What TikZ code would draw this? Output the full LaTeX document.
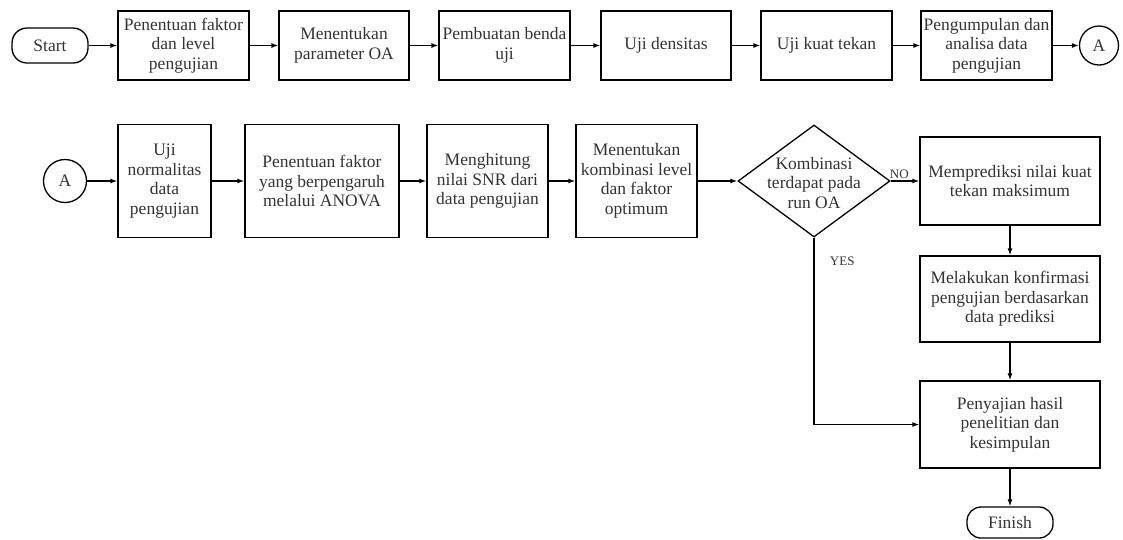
\documentclass[tikz,border=0pt]{standalone}
\usepackage{fontspec}
\setmainfont{Liberation Serif}
\newfontfamily\tnr{Liberation Serif}
\usetikzlibrary{arrows.meta,shapes.geometric}
\begin{document}
\begin{tikzpicture}[x=1pt,y=-1pt,
  every node/.style={font=\tnr\fontsize{17.5}{19.5}\selectfont, text=black!80},
  proc/.style={draw=black, line width=1.3pt, rectangle, align=center, inner sep=2pt, minimum height=#1},
  proc/.default=69pt,
  term/.style={draw=black, line width=1.3pt, rectangle, rounded corners=15pt, align=center, inner sep=2pt},
  conn/.style={draw=black, line width=1.3pt, circle, inner sep=0pt},
  dia/.style={draw=black, line width=1.3pt, diamond, inner sep=0pt, minimum width=152pt, minimum height=112pt},
  lbl/.style={font=\tnr\fontsize{13}{14}\selectfont},
  arr/.style={draw=black, line width=1.3pt, -{Latex[length=7pt,width=5pt]}}
]
\useasboundingbox (0,0) rectangle (1123,539);
% Row 1
\node[term, minimum width=76pt, minimum height=35pt] (start) at (50,45.5) {Start};
\node[proc, minimum width=131pt] (b1) at (183.5,45.5) {Penentuan faktor\\dan level\\pengujian};
\node[proc, minimum width=130pt] (b2) at (344,45.5) {Menentukan\\parameter OA};
\node[proc, minimum width=131pt] (b3) at (504.5,45.5) {Pembuatan benda\\uji};
\node[proc, minimum width=130pt] (b4) at (666,45.5) {Uji densitas};
\node[proc, minimum width=131pt] (b5) at (826.5,45.5) {Uji kuat tekan};
\node[proc, minimum width=131pt] (b6) at (986.5,45.5) {Pengumpulan dan\\analisa data\\pengujian};
\node[conn, minimum size=39pt] (a1) at (1099,45.5) {A};
\draw[arr] (start) -- (b1);
\draw[arr] (b1) -- (b2);
\draw[arr] (b2) -- (b3);
\draw[arr] (b3) -- (b4);
\draw[arr] (b4) -- (b5);
\draw[arr] (b5) -- (b6);
\draw[arr] (b6) -- (a1);
% Row 2
\node[conn, minimum size=43pt] (a2) at (65,181) {A};
\node[proc=113pt, minimum width=93pt] (c1) at (164.5,181) {Uji\\normalitas\\data\\pengujian};
\node[proc=113pt, minimum width=154pt] (c2) at (322,181) {Penentuan faktor\\yang berpengaruh\\melalui ANOVA};
\node[proc=113pt, minimum width=121pt] (c3) at (487.5,181) {Menghitung\\nilai SNR dari\\data pengujian};
\node[proc=113pt, minimum width=121pt] (c4) at (636.5,181) {Menentukan\\kombinasi level\\dan faktor\\optimum};
\node[dia] (d) at (814,181) {};
\node[align=center, inner sep=0pt] (dt) at (814,183) {Kombinasi\\terdapat pada\\run OA};
\node[proc=88pt, minimum width=180pt] (p1) at (1010,181) {Memprediksi nilai kuat\\tekan maksimum};
\node[proc=86pt, minimum width=180pt] (p2) at (1010,299) {Melakukan konfirmasi\\pengujian berdasarkan\\data prediksi};
\node[proc=87pt, minimum width=180pt] (p3) at (1010,424.5) {Penyajian hasil\\penelitian dan\\kesimpulan};
\node[term, minimum width=86pt, minimum height=31pt, rounded corners=14pt] (fin) at (1010,522.5) {Finish};
\draw[arr] (a2) -- (c1);
\draw[arr] (c1) -- (c2);
\draw[arr] (c2) -- (c3);
\draw[arr] (c3) -- (c4);
\draw[arr] (c4) -- (d);
\draw[arr] (d.east) -- node[lbl, pos=0.3, above, inner sep=2pt] {NO} (p1.west);
\draw[arr] (d.south) |- node[lbl, pos=0.064, right=12pt] {YES} (p3.west);
\draw[arr] (p1) -- (p2);
\draw[arr] (p2) -- (p3);
\draw[arr] (p3) -- (fin);
\end{tikzpicture}
\end{document}
